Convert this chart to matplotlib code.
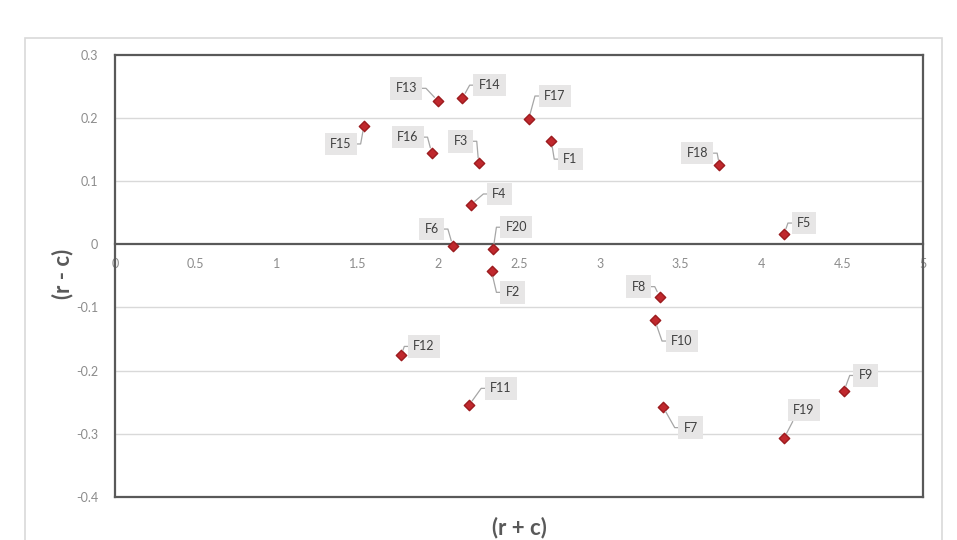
import matplotlib.pyplot as plt
from matplotlib.patches import Rectangle

plt.rcParams['font.family'] = ['Lato', 'DejaVu Sans']

# factor positions
labels = ['F1', 'F2', 'F3', 'F4', 'F5', 'F6', 'F7', 'F8', 'F9', 'F10',
          'F11', 'F12', 'F13', 'F14', 'F15', 'F16', 'F17', 'F18', 'F19', 'F20']
r_plus_c = [2.70, 2.33, 2.25, 2.20, 4.14, 2.09, 3.39, 3.37, 4.51, 3.34,
            2.19, 1.77, 2.00, 2.15, 1.54, 1.96, 2.56, 3.74, 4.14, 2.34]
r_minus_c = [0.163, -0.043, 0.128, 0.062, 0.016, -0.003, -0.257, -0.083, -0.233, -0.120,
             -0.255, -0.176, 0.226, 0.231, 0.187, 0.144, 0.198, 0.125, -0.307, -0.008]
x_ticks = [0, 0.5, 1, 1.5, 2, 2.5, 3, 3.5, 4, 4.5, 5]
y_ticks = [0.3, 0.2, 0.1, 0, -0.1, -0.2, -0.3, -0.4]

# label offsets from each point, in pixels (placement only)
offsets = {'F1': (19, -18), 'F2': (21, -21), 'F3': (-18, 22), 'F4': (29, 11),
           'F5': (20, 11), 'F6': (-21, 17), 'F7': (28, -21), 'F8': (-21, 10),
           'F9': (22, 16), 'F10': (27, -21), 'F11': (32, 17), 'F12': (23, 9),
           'F13': (-32, 13), 'F14': (27, 13), 'F15': (-23, -18), 'F16': (-24, 16),
           'F17': (26, 23), 'F18': (-22, 12), 'F19': (20, 28), 'F20': (23, 22)}

fig = plt.figure(figsize=(9.57, 5.4), dpi=100)
fig.patch.set_facecolor('white')

# outer chart border (cut off at the bottom like the screenshot)
fig.patches.append(Rectangle((0.026, -0.1), 0.958, 1.0296, transform=fig.transFigure,
                             fill=False, edgecolor='#d9d9d9', linewidth=1.2))

ax = fig.add_axes([0.1202, 0.0796, 0.8443, 0.8194])
ax.set_xlim(0, 5)
ax.set_ylim(-0.4, 0.3)

dark = '#595959'
for side in ['top', 'left', 'right']:
    ax.spines[side].set_color(dark)
    ax.spines[side].set_linewidth(1.6)
# bottom spine becomes the horizontal axis at y = 0
ax.spines['bottom'].set_position(('data', 0))
ax.spines['bottom'].set_color(dark)
ax.spines['bottom'].set_linewidth(1.6)
ax.plot([0, 1], [0, 0], transform=ax.transAxes, color=dark, lw=1.6, clip_on=False, zorder=3)

ax.set_xticks(x_ticks)
ax.set_xticklabels([f'{t:g}' for t in x_ticks])
ax.set_yticks(y_ticks)
ax.set_yticklabels([f'{t:g}' for t in y_ticks])
ax.tick_params(axis='both', length=0, labelsize=9, labelcolor='#8c8c8c')
ax.tick_params(axis='x', pad=10)
ax.tick_params(axis='y', pad=12)
for yt in y_ticks:
    if yt not in (0, 0.3, -0.4):
        ax.axhline(yt, color='#d9d9d9', lw=1.0, zorder=0)

ax.scatter(r_plus_c, r_minus_c, marker='D', s=28, facecolor='#c0282d',
           edgecolor='#9b1b1e', linewidth=1.0, zorder=5)

for lab, x, y in zip(labels, r_plus_c, r_minus_c):
    dx, dy = offsets[lab]
    left = dx < 0
    if lab == 'F19':
        # straight leader from the lower left corner of the box
        conn, rel = 'arc3,rad=0', (0.1, 0)
    else:
        conn = 'arc,angleA=%d,armA=9,angleB=0,armB=0,rad=0' % (0 if left else 180)
        rel = (1, 0.5) if left else (0, 0.5)
    ax.annotate(lab, (x, y), xytext=(dx, dy), textcoords='offset pixels',
                ha='center', va='center', fontsize=9, color='#404040', zorder=6,
                bbox=dict(boxstyle='square,pad=0.42', fc='#e7e6e6', ec='none'),
                arrowprops=dict(arrowstyle='-', color='#a6a6a6', lw=0.9, relpos=rel,
                                shrinkA=0, shrinkB=4, connectionstyle=conn))

ax.set_xlabel('(r + c)', fontsize=16, fontweight='bold', color=dark)
ax.xaxis.set_label_coords(0.5, -0.07)
ax.xaxis.label.set_va('center')
ax.set_ylabel('(r - c)', fontsize=16, fontweight='bold', color=dark, va='center')
ax.yaxis.set_label_coords(-0.0656, 0.504)

fig.savefig('out.png', dpi=100, facecolor='white')
